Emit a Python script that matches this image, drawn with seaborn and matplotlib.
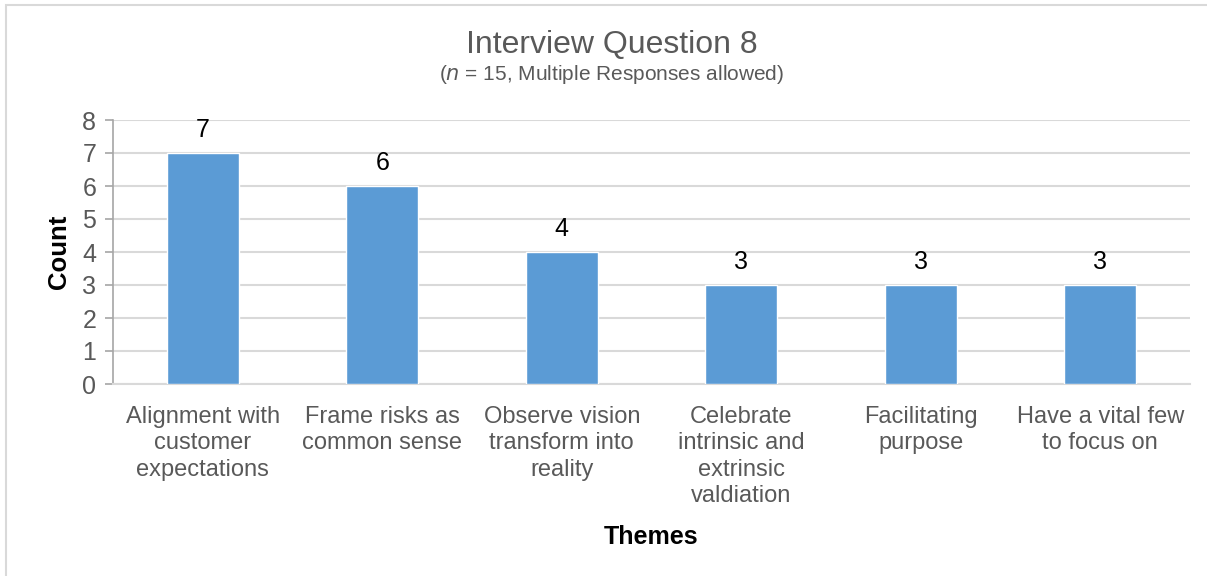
import matplotlib
matplotlib.use("Agg")
import matplotlib.pyplot as plt
import seaborn as sns
import pandas as pd
from matplotlib.patches import Rectangle

themes = [
    "Alignment with\ncustomer\nexpectations",
    "Frame risks as\ncommon sense",
    "Observe vision\ntransform into\nreality",
    "Celebrate\nintrinsic and\nextrinsic\nvaldiation",
    "Facilitating\npurpose",
    "Have a vital few\nto focus on",
]
counts = [7, 6, 4, 3, 3, 3]
y_ticks = [0, 1, 2, 3, 4, 5, 6, 7, 8]

sns.set_theme(style="white")
plt.rcParams["font.family"] = ["Liberation Sans", "DejaVu Sans"]

df = pd.DataFrame({"Theme": themes, "Count": counts})

fig = plt.figure(figsize=(12.07, 5.76), dpi=100)
ax = fig.add_axes([113 / 1207, 1 - 384 / 576, (1190 - 113) / 1207, (384 - 120) / 576])

sns.barplot(data=df, x="Theme", y="Count", color="#5B9BD5", width=0.4,
            saturation=1, ax=ax, zorder=3)

ax.set_ylim(0, 8)
ax.set_xlim(-0.5, len(themes) - 0.5)
ax.set_yticks(y_ticks)
ax.yaxis.grid(True, color="#D9D9D9", linewidth=1.5, zorder=0)
ax.set_axisbelow(True)

for s in ["top", "right"]:
    ax.spines[s].set_visible(False)
ax.spines["left"].set_color("#A6A6A6")
ax.spines["left"].set_linewidth(1.2)
ax.spines["bottom"].set_color("#D9D9D9")
ax.spines["bottom"].set_linewidth(1.5)

ax.tick_params(axis="y", which="major", left=True, length=6, width=1.2,
               color="#A6A6A6", labelsize=18, labelcolor="#595959", pad=6)
ax.tick_params(axis="x", bottom=False, labelsize=17, labelcolor="#595959", pad=10)
for lbl in ax.get_xticklabels():
    lbl.set_linespacing(1.25)

for c in ax.containers:
    ax.bar_label(c, labels=[str(v) for v in counts], padding=8, fontsize=18,
                 color="black")

ax.set_xlabel("Themes", fontsize=18, fontweight="bold", color="black", labelpad=13)
ax.set_ylabel("Count", fontsize=18.5, fontweight="bold", color="black", labelpad=8)

fig.text(612 / 1207, 1 - 45 / 576, "Interview Question 8", ha="center", va="center",
         fontsize=23, color="#595959")
fig.text(612 / 1207, 1 - 75 / 576, r"($\it{n}$ = 15, Multiple Responses allowed)",
         ha="center", va="center", fontsize=15, color="#595959")

fig.patches.append(Rectangle((6 / 1207, -0.1), 1.2, 1 - 5 / 576 + 0.1,
                             transform=fig.transFigure, fill=False,
                             edgecolor="#D9D9D9", linewidth=1.5))

fig.savefig("out.png", dpi=100)
